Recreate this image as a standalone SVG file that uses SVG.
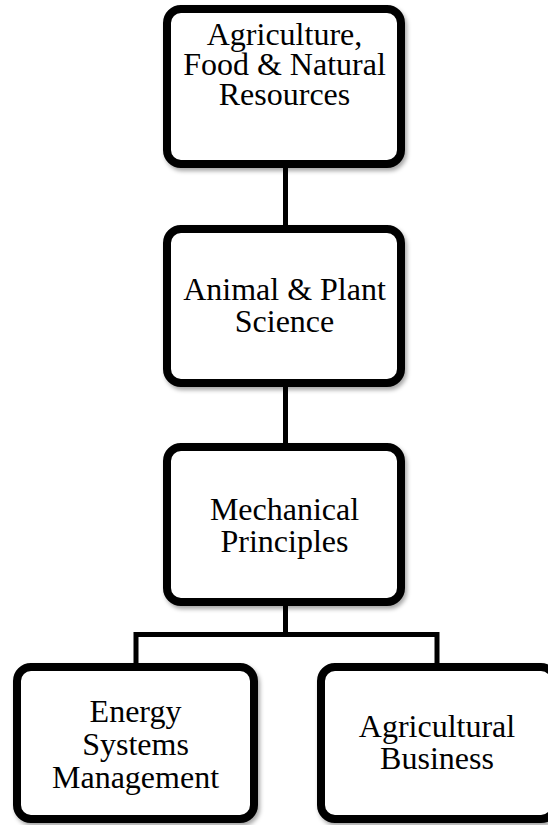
<svg xmlns="http://www.w3.org/2000/svg" width="548" height="825" viewBox="0 0 548 825">
  <defs>
    <filter id="shadow" x="-10%" y="-10%" width="125%" height="125%">
      <feDropShadow dx="2" dy="3" stdDeviation="2" flood-color="#000" flood-opacity="0.35"/>
    </filter>
    <style>
      .box { fill: #ffffff; stroke: #000000; stroke-width: 8; filter: url(#shadow); }
      .conn { fill: none; stroke: #000000; stroke-width: 5; stroke-linejoin: miter; stroke-linecap: butt; }
      .label { font-family: "Liberation Serif", "Times New Roman", serif; font-size: 32px; fill: #000000; text-anchor: middle; }
    </style>
  </defs>
  <rect width="548" height="825" fill="#ffffff"/>

  <g id="connectors">
    <line class="conn" x1="285.5" y1="168" x2="285.5" y2="225"/>
    <line class="conn" x1="285.5" y1="387" x2="285.5" y2="443"/>
    <line class="conn" x1="285.5" y1="606" x2="285.5" y2="634.5"/>
    <polyline class="conn" points="136,663 136,634.5 437,634.5 437,663"/>
  </g>

  <g id="node-afnr">
    <rect class="box" x="167" y="9" width="234" height="155" rx="14" ry="14"/>
    <text class="label" x="284.5" y="45">Agriculture,</text>
    <text class="label" x="284.5" y="75">Food &amp; Natural</text>
    <text class="label" x="284.5" y="105">Resources</text>
  </g>

  <g id="node-aps">
    <rect class="box" x="167" y="229" width="234" height="154" rx="14" ry="14"/>
    <text class="label" x="284.5" y="300">Animal &amp; Plant</text>
    <text class="label" x="284.5" y="332">Science</text>
  </g>

  <g id="node-mp">
    <rect class="box" x="167" y="447" width="234" height="155" rx="14" ry="14"/>
    <text class="label" x="284.5" y="520">Mechanical</text>
    <text class="label" x="284.5" y="552">Principles</text>
  </g>

  <g id="node-esm">
    <rect class="box" x="17" y="667" width="237" height="152" rx="14" ry="14"/>
    <text class="label" x="135.5" y="722">Energy</text>
    <text class="label" x="135.5" y="755">Systems</text>
    <text class="label" x="135.5" y="788">Management</text>
  </g>

  <g id="node-ab">
    <rect class="box" x="321" y="667" width="234" height="152" rx="14" ry="14"/>
    <text class="label" x="437" y="737">Agricultural</text>
    <text class="label" x="437" y="769">Business</text>
  </g>
</svg>
